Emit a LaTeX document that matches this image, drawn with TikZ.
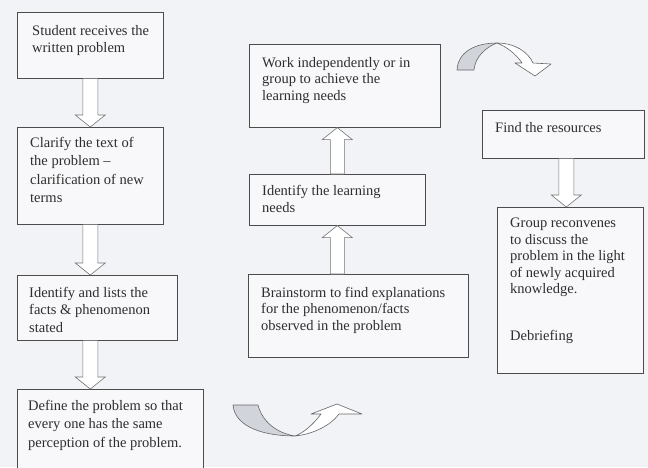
\documentclass[tikz,border=0pt]{standalone}
\usepackage{fontspec}
\setmainfont{Liberation Serif}
\usetikzlibrary{calc}
\definecolor{bgc}{RGB}{242,243,247}
\definecolor{boxfill}{RGB}{248,248,250}
\definecolor{shade}{RGB}{210,212,220}
\tikzset{
  box/.style={draw=black!70, line width=0.6pt, fill=boxfill, inner sep=0pt, anchor=north west},
  txt/.style={inner sep=0pt, anchor=north west, align=left, text=black!82,
              font=\fontsize{14.5}{17.5}\selectfont},
  txtr/.style={txt, font=\fontsize{14.5}{16.5}\selectfont},
  blk/.style={draw=black!55, fill=white, line width=0.6pt, line join=miter},
  curv/.style={draw=black!60, line width=0.6pt, line join=round},
}
\newcommand\downblock[2]{\draw[blk] let \p1=#1, \p2=#2 in
  (\x1-7.5pt,\y1) -- (\x1-7.5pt,\y2+12pt) -- (\x1-15pt,\y2+12pt) -- (\x1,\y2)
  -- (\x1+15pt,\y2+12pt) -- (\x1+7.5pt,\y2+12pt) -- (\x1+7.5pt,\y1) -- cycle;}
\newcommand\upblock[2]{\draw[blk] let \p1=#1, \p2=#2 in
  (\x1-7pt,\y1) -- (\x1-7pt,\y2-12pt) -- (\x1-15pt,\y2-12pt) -- (\x1,\y2)
  -- (\x1+15pt,\y2-12pt) -- (\x1+7pt,\y2-12pt) -- (\x1+7pt,\y1) -- cycle;}
\begin{document}
\begin{tikzpicture}[x=1pt,y=-1pt]
\useasboundingbox (0,0) rectangle (648,467);
\clip (0,0) rectangle (648,467);
\fill[bgc] (0,0) rectangle (648,467);

% left column
\node[box, minimum width=146, minimum height=66] (b1) at (17,12) {};
\node[txt] (t1) at ([shift={(15,13)}]b1.north west) {Student receives the\\written problem};
\node[box, minimum width=146, minimum height=97] (b2) at (17,127) {};
\node[txt, font=\fontsize{14.5}{18.5}\selectfont] (t2) at ([shift={(13,10)}]b2.north west) {Clarify the text of\\the problem –\\clarification of new\\terms};
\node[box, minimum width=160, minimum height=65] (b3) at (17,275) {};
\node[txt] (t3) at ([shift={(12,12)}]b3.north west) {Identify and lists the\\facts \& phenomenon\\stated};
\node[box, minimum width=186, minimum height=85] (b4) at (17,389) {};
\node[txt, font=\fontsize{14.5}{18.5}\selectfont] (t4) at ([shift={(11,11)}]b4.north west) {Define the problem so that\\every one has the same\\perception of the problem.};

% middle column
\node[box, minimum width=191, minimum height=83] (work) at (249,44) {};
\node[txtr] (tw) at ([shift={(13,13)}]work.north west) {Work independently or in\\group to achieve the\\learning needs};
\node[box, minimum width=176, minimum height=51] (ident) at (249,174) {};
\node[txt] (ti) at ([shift={(13,11)}]ident.north west) {Identify the learning\\needs};
\node[box, minimum width=220, minimum height=83] (brain) at (248,274) {};
\node[txtr] (tb) at ([shift={(13,13)}]brain.north west) {Brainstorm to find explanations\\for the phenomenon/facts\\observed in the problem};

% right column
\node[box, minimum width=162, minimum height=48] (find) at (482,110) {};
\node[txt] (tf) at ([shift={(13,12)}]find.north west) {Find the resources};
\node[box, minimum width=146, minimum height=166] (group) at (497,207) {};
\node[txtr] (tg) at ([shift={(13,11)}]group.north west) {Group reconvenes\\to discuss the\\problem in the light\\of newly acquired\\knowledge.\\[30pt]Debriefing};

% block arrows
\downblock{(b1.south)}{(b2.north)}
\downblock{(b2.south)}{(b3.north)}
\downblock{(b3.south -| b2.south)}{(b4.north -| b2.south)}
\upblock{(brain.north -| ident.south)}{(ident.south)}
\upblock{(ident.north)}{(work.south -| ident.north)}
\downblock{([xshift=3pt]find.south)}{([xshift=3pt]find.south |- group.north)}

% curved arrow (top, pointing down-right)
\filldraw[curv, fill=shade] (457,70) .. controls (458,52) and (475,43) .. (497,43)
  .. controls (486,47) and (475,57) .. (474,70) -- cycle;
\filldraw[curv, fill=white] (497,43) .. controls (515,43) and (528,52) .. (533,63)
  -- (551,64) -- (535,76) -- (515,63) -- (522,63)
  .. controls (516,54) and (507,47) .. (497,43) -- cycle;

% curved arrow (bottom, pointing up-right)
\filldraw[curv, fill=shade] (233,405) -- (258,405) .. controls (262,421) and (276,433) .. (295,436)
  .. controls (266,436) and (235,428) .. (233,405) -- cycle;
\filldraw[curv, fill=white] (295,436) .. controls (314,434) and (331,425) .. (339,414)
  -- (362,414) -- (337,404) -- (311,414) -- (321,414)
  .. controls (313,425) and (303,433) .. (295,436) -- cycle;
\end{tikzpicture}
\end{document}
